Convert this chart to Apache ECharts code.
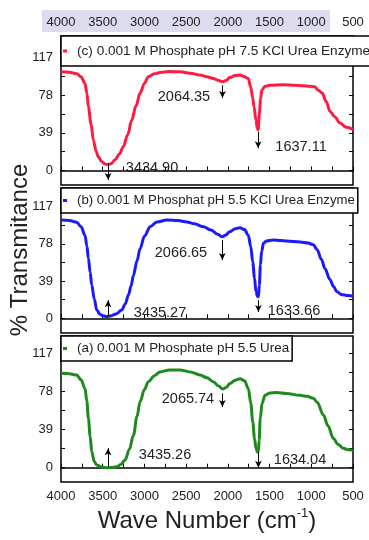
<!DOCTYPE html>
<html>
<head>
<meta charset="utf-8">
<script src="https://cdn.jsdelivr.net/npm/echarts@6/dist/echarts.min.js"></script>
<style>html,body{margin:0;padding:0;background:#fff}#c{width:369px;height:540px}</style>
</head>
<body>
<div id="c"></div>
<script>
// ---- data ----
const seriesNames = [
  '(c) 0.001 M Phosphate pH 7.5 KCl Urea Enzyme',
  '(b) 0.001 M Phosphat pH 5.5 KCl Urea Enzyme',
  '(a) 0.001 M Phosphate pH 5.5 Urea'
];
const xTicks = [500, 1000, 1500, 2000, 2500, 3000, 3500, 4000];
const yTickLabels = [0, 39, 78, 117];
const yMinorTicks = [0, 19.5, 39, 58.5, 78, 97.5, 117, 136.5];

const wnC = [4000,3900,3812,3760,3712,3690,3672,3640,3612,3580,3552,3510,3472,3440,3400,3353,3300,3253,3200,3153,3100,3052,3000,2953,2880,2813,2700,2574,2450,2334,2250,2175,2110,2064,2020,1977,1910,1854,1800,1755,1725,1702,1687,1663,1647,1637,1623,1608,1594,1555,1500,1335,1200,1100,1015,960,916,870,820,775,720,656,580,500];
const tC  = [102,101.5,100,97,90,80,66,48,31.5,20,14,9,6.7,6,7,11,17,24.6,37,52,67,80,90,97,100,101.4,102.3,102,100.5,98.6,97,95,93,91.7,93,96,98.2,98.6,97,95,86,75,66,52,43.5,42,58,74,83,87,88,88.5,88,87.5,87,86.5,83,80,71,61,55.6,49,44.6,42.5,41.8];

const wnB = [4000,3900,3812,3760,3712,3690,3672,3650,3632,3600,3572,3530,3492,3450,3412,3340,3272,3230,3192,3160,3132,3090,3052,3000,2932,2850,2732,2600,2492,2400,2292,2200,2120,2066,2030,1977,1910,1854,1800,1755,1725,1702,1680,1663,1645,1634,1622,1610,1595,1574,1540,1454,1300,1135,1040,975,930,880,835,780,730,695,640,560,500];
const tB  = [103,102.5,100.6,96,87,76,63,48,35,20,8.7,4,2.4,2,2.4,4.5,8.7,15,24.4,34,45,60,73,86,96,101,103,102.5,101,99,96,92.5,88,85.5,87,90.8,94,95,93,87,75,59,42,28,23,22.6,35,56,70,78.6,81,82,81,80,79,77,72,62,52,41,33,28,25,23.8,23.4];

const wnA = [4000,3900,3812,3760,3712,3690,3672,3650,3632,3600,3572,3510,3452,3400,3332,3280,3232,3180,3132,3090,3052,3000,2953,2880,2813,2700,2574,2450,2334,2250,2175,2110,2063,2020,1977,1910,1854,1800,1755,1725,1702,1680,1663,1645,1634,1625,1612,1590,1554,1500,1414,1300,1135,1050,975,930,855,800,735,680,616,560,500];
const tA  = [96.5,96,94.8,90,81,68,50.5,32,16.4,6,2.8,0.8,0,0.2,1,3.5,7.9,19,33,52,67.5,80,88,94,98,100,100,98,94.8,92,88,83.5,80.5,82,86,89.5,91,89,81,66,47,30,19.8,16,16.4,28,50,66,74,76.5,77,76,74,73,71,67,54,43,30,24,19.8,18.5,18];

const peaksC = [3434.90, 2064.35, 1637.11];
const peaksB = [3435.27, 2066.65, 1633.66];
const peaksA = [3435.26, 2065.74, 1634.04];

// ---- annotation layout (data coordinates), separate from data ----
const arrowSpan = [
  [[7.7,-9.8],[88,75],[40,23]],
  [[1.7,19],[82,61],[19,6.6]],
  [[1,20],[76,62],[16,0]]
];
const labelAt = [
  [[2909,2.6],[2526,76],[1123,24]],
  [[2813,5.6],[2562,68.5],[1207,8]],
  [[2753,13],[2478,70],[1135,8]]
];

// ---- styles / layout ----
const FONT = '"Liberation Sans", Arial, Helvetica, sans-serif';
const colors = ['#ff1a40', '#1a1aff', '#1e8a1e'];
const gridBoxes = [{top:36,height:149},{top:188,height:145},{top:336,height:146}];
const yRanges = [[-15,139],[-15.4,136.6],[-14.6,134.7]];
const legendPad = [[8,4,8,2],[6,3,6,2],[6,3,6,2]];
const legendFont = [13.6, 13.2, 13.4];

const wns = [wnC, wnB, wnA];
const ts = [tC, tB, tA];
const peaks = [peaksC, peaksB, peaksA];

const chart = echarts.init(document.getElementById('c'), null, {renderer:'canvas'});

const grid = gridBoxes.map(g => ({left:61, right:16, top:g.top, height:g.height, show:true,
  borderColor:'#000', borderWidth:1.5, backgroundColor:'transparent'}));

const xLabelFmt = v => String(v);
const xAxis = [0,1,2].map(i => ({
  type:'value', gridIndex:i, min:xTicks[0], max:xTicks[xTicks.length-1], interval:500, inverse:true, position:'bottom',
  axisLine:{show:true, lineStyle:{color:'#000', width:1.5}},
  axisTick:{show:true, inside:true, length:4, lineStyle:{color:'#000', width:1}},
  minorTick:{show:true, splitNumber:2, length:4, lineStyle:{color:'#000', width:1}},
  axisLabel:{show:i===2, margin:8, fontSize:13, color:'#222', fontFamily:FONT, formatter:xLabelFmt},
  splitLine:{show:false}
}));
xAxis.push({
  type:'value', gridIndex:0, min:xTicks[0], max:xTicks[xTicks.length-1], interval:500, inverse:true, position:'top',
  axisLine:{show:false}, axisTick:{show:false},
  axisLabel:{show:true, margin:7.5, fontSize:13, color:'#222', fontFamily:FONT, formatter:xLabelFmt},
  splitLine:{show:false}
});

const yAxis = [];
[0,1,2].forEach(i => yAxis.push({
  type:'value', gridIndex:i, min:yRanges[i][0], max:yRanges[i][1], position:'left',
  axisLine:{show:false},
  axisTick:{show:true, inside:true, length:4, customValues:yMinorTicks, lineStyle:{color:'#000'}},
  axisLabel:{show:true, customValues:yTickLabels, margin:8, fontSize:13, color:'#222', fontFamily:FONT},
  splitLine:{show:false}
}));
[0,1,2].forEach(i => yAxis.push({
  type:'value', gridIndex:i, min:yRanges[i][0], max:yRanges[i][1], position:'right',
  axisLine:{show:false},
  axisTick:{show:true, inside:true, length:4, customValues:yMinorTicks, lineStyle:{color:'#000'}},
  axisLabel:{show:false},
  splitLine:{show:false}
}));

const series = [0,1,2].map(i => ({
  name: seriesNames[i], type:'line', xAxisIndex:i, yAxisIndex:i,
  data: wns[i].map((w,k) => [w, ts[i][k]]),
  showSymbol:false, smooth:0.35, smoothMonotone:'x', silent:true, animation:false, z:3,
  itemStyle:{color:colors[i]},
  lineStyle:{color:colors[i], width:3},
  markLine:{
    silent:true, animation:false, symbol:['none','arrow'], symbolSize:[5,7],
    lineStyle:{color:'#000', width:1, type:'solid'}, label:{show:false},
    emphasis:{disabled:true},
    data: peaks[i].map((p,k) => [{coord:[p, arrowSpan[i][k][0]]},{coord:[p, arrowSpan[i][k][1]]}])
  },
  markPoint:{
    silent:true, animation:false, symbol:'circle', symbolSize:0,
    label:{show:true, position:'inside', formatter:q => q.name, color:'#222', fontSize:14.5, fontFamily:FONT},
    data: peaks[i].map((p,k) => ({name:p.toFixed(2), coord:labelAt[i][k]}))
  }
}));

const legend = [0,1,2].map(i => ({
  data:[seriesNames[i]], left:61, top:gridBoxes[i].top, orient:'horizontal',
  backgroundColor:'#fff', borderColor:'#000', borderWidth:1.5, borderRadius:0,
  padding:legendPad[i], itemWidth:4, itemHeight:3, icon:'rect', selectedMode:false,
  textStyle:{fontSize:legendFont[i], color:'#222', fontFamily:FONT, padding:[0,0,0,5]}
}));

chart.setOption({
  backgroundColor:'#fff',
  animation:false,
  grid, xAxis, yAxis, series, legend,
  graphic:[
    {type:'rect', z:-1, shape:{x:42, y:10, width:288, height:22}, style:{fill:'#dcdcee'}},
    {type:'text', x:20, y:250, rotation:Math.PI/2,
      style:{text:'% Transmitance', font:'24px ' + FONT, fill:'#222', align:'center', verticalAlign:'middle'}},
    {type:'text', x:207, y:521,
      style:{text:'{a|Wave Number (cm}{s|-1}{a|)}', align:'center', verticalAlign:'middle', fill:'#222',
        rich:{a:{fontSize:24, fontFamily:FONT, lineHeight:28, fill:'#222', color:'#222'},
              s:{fontSize:13, fontFamily:FONT, verticalAlign:'top', lineHeight:14, fill:'#222', color:'#222'}}}}
  ]
});
</script>
</body>
</html>
